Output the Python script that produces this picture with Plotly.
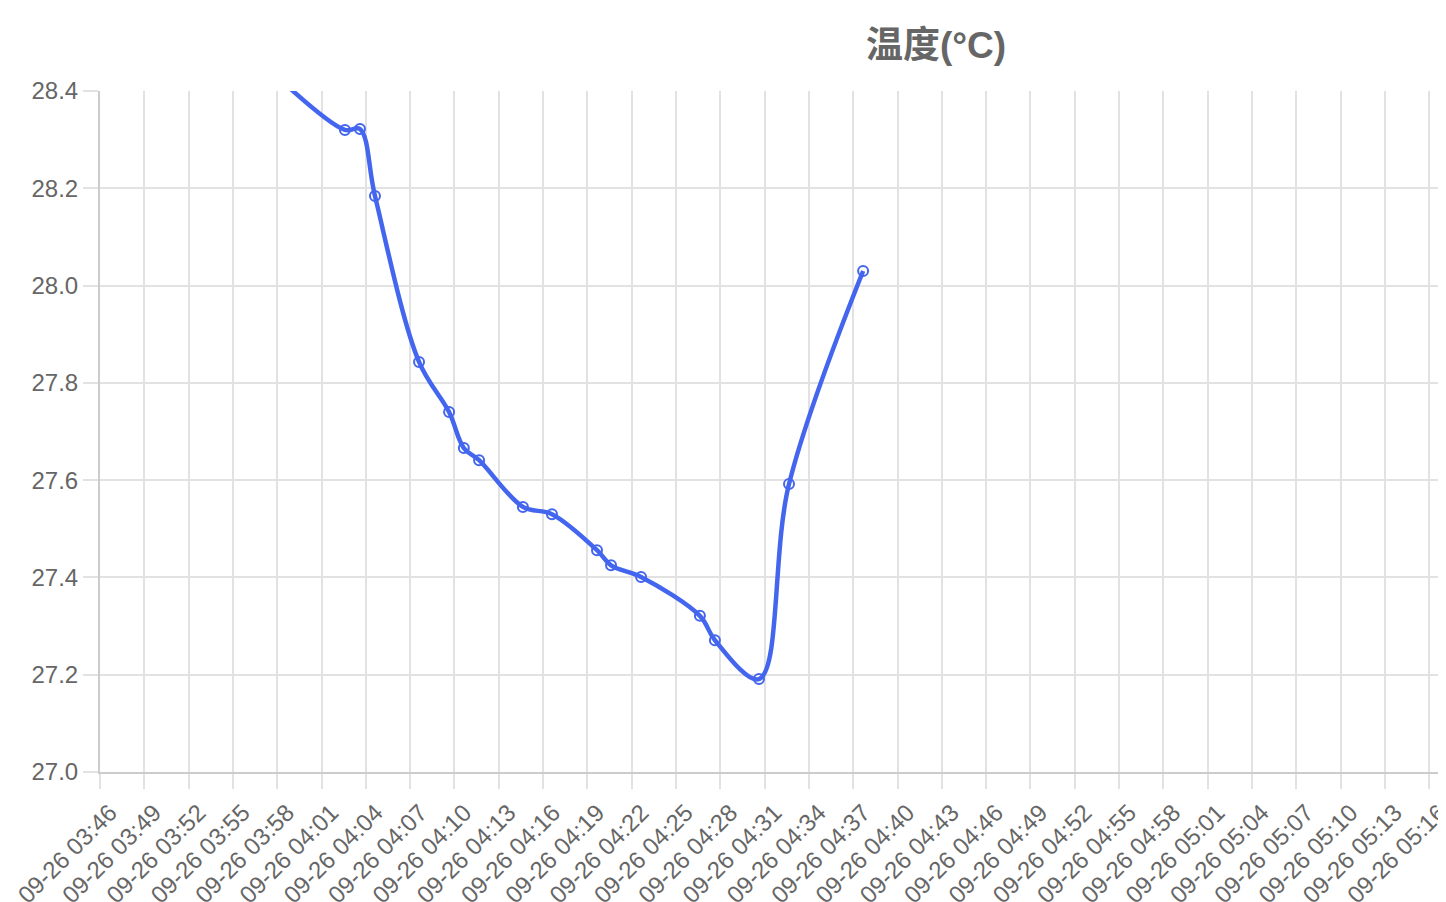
import plotly.graph_objects as go

times = [
    "2023-09-26 03:57:37",
    "2023-09-26 04:02:35", "2023-09-26 04:03:36", "2023-09-26 04:04:37",
    "2023-09-26 04:07:36", "2023-09-26 04:09:38", "2023-09-26 04:10:38",
    "2023-09-26 04:11:40", "2023-09-26 04:14:38", "2023-09-26 04:16:36",
    "2023-09-26 04:19:39", "2023-09-26 04:20:36", "2023-09-26 04:22:38",
    "2023-09-26 04:26:37", "2023-09-26 04:27:38", "2023-09-26 04:30:37",
    "2023-09-26 04:32:39", "2023-09-26 04:37:40",
]
temps = [
    28.44,
    28.32, 28.322, 28.184,
    27.843, 27.74, 27.666,
    27.641, 27.545, 27.53,
    27.456, 27.425, 27.401,
    27.321, 27.271, 27.191,
    27.592, 28.03,
]

x_start = "2023-09-26 03:45:59.9"
x_tick0 = "2023-09-26 03:46:00"
x_end = "2023-09-26 05:17:08"
title_text = "温度(°C)"

blue = "#4466ee"
grid = "#e2e2e2"
axis_line = "#cccccc"
text_col = "#666666"
font_fam = "Liberation Sans, Arial, sans-serif"

W, H = 1438, 894

fig = go.Figure()
fig.add_trace(go.Scatter(
    x=times, y=temps, mode="markers",
    marker=dict(symbol="circle", size=10, color="white",
                line=dict(color=blue, width=2)),
    showlegend=False, hoverinfo="skip",
))
fig.add_trace(go.Scatter(
    x=times, y=temps, mode="lines",
    line=dict(color=blue, width=4.5, shape="spline", smoothing=1.0),
    showlegend=False,
))

fig.update_layout(
    width=W, height=H,
    margin=dict(l=92, r=0, t=83, b=130, autoexpand=False),
    paper_bgcolor="white", plot_bgcolor="white",
    font=dict(family=font_fam, color=text_col, size=24),
    title=dict(text="<b>" + title_text + "</b>", x=836 / 1346, xref="paper",
               xanchor="center", y=1 - 37 / H, yanchor="middle",
               font=dict(family="Liberation Sans, Noto Sans CJK SC, sans-serif",
                         size=37, color=text_col)),
)
fig.update_xaxes(
    type="date", range=[x_start, x_end], automargin=False,
    tick0=x_tick0, dtick=180000, tickformat="%m-%d %H:%M",
    tickangle=-45, showgrid=True, gridcolor=grid, gridwidth=2,
    ticks="outside", ticklen=15, tickcolor=grid, tickwidth=2,
    showline=True, linecolor=axis_line, linewidth=2,
    tickfont=dict(size=24, color=text_col, family=font_fam),
    ticklabelshift=10, ticklabeloverflow="allow",
    zeroline=False,
)
fig.update_yaxes(
    range=[27.0, 28.4], dtick=0.2, tick0=27.0, tickformat=".1f", automargin=False,
    showgrid=True, gridcolor=grid, gridwidth=2,
    ticks="outside", ticklen=15, tickcolor=grid, tickwidth=2,
    showline=True, linecolor=axis_line, linewidth=2,
    tickfont=dict(size=24, color=text_col, family=font_fam),
    zeroline=False,
)

fig.write_html("out.html")
